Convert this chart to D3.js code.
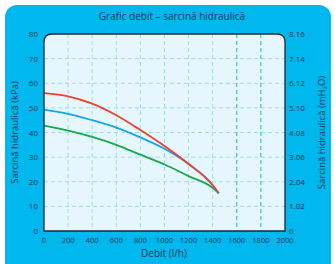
<!DOCTYPE html>
<html>
<head>
<meta charset="utf-8">
<script src="https://cdn.jsdelivr.net/npm/d3@7"></script>
<style>
  body { margin: 0; background: #fff; }
  text { font-family: "Open Sans", sans-serif; fill: #1d3550; }
</style>
</head>
<body>
<svg id="chart" width="335" height="264"></svg>
<script>
// flow (l/h)
const flow = [0, 200, 400, 600, 800, 1000, 1200, 1400, 1450]
// head (kPa) per speed
const headHigh = [56, 54.7, 51.7, 47, 41, 34.5, 27.2, 18.6, 15.3]
const headMid = [49.3, 47.6, 45, 42, 38, 33.4, 27.2, 18.6, 15.3]
const headLow = [42.8, 40.8, 38.2, 35, 31, 27, 22.3, 17.5, 15.3]
const xTicks = d3.range(0, 2001, 200)
const yTicks = d3.range(0, 81, 10)
const y2Ticks = ["0", "1.02", "2.04", "3.06", "4.08", "5.10", "6.12", "7.14", "8.16"]

const svg = d3.select("#chart")
const m = { left: 44, right: 285, top: 34, bottom: 231 }

// card background
svg.append("rect").attr("x", 5).attr("y", 5).attr("width", 326).attr("height", 280)
  .attr("rx", 12).attr("fill", "#00b8ee")

let x = d3.scaleLinear().domain([0, 2000]).range([m.left, m.right])
let y = d3.scaleLinear().domain([0, 80]).range([m.bottom, m.top])
let y2 = d3.scaleLinear().domain([0, 8.16]).range([m.bottom, m.top])

// plot panel, rounded top corners only
const r = 8
const panel = `M${m.left},${m.bottom} L${m.left},${m.top + r} Q${m.left},${m.top} ${m.left + r},${m.top}
  L${m.right - r},${m.top} Q${m.right},${m.top} ${m.right},${m.top + r} L${m.right},${m.bottom} Z`
svg.append("path").attr("d", panel).attr("fill", "#e6f6fd")

// grid
svg.append("g").selectAll("line").data(yTicks.slice(1, -1)).join("line")
  .attr("x1", m.left).attr("x2", m.right)
  .attr("y1", d => y(d)).attr("y2", d => y(d))
  .attr("stroke", "#9edcf4").attr("stroke-width", 1).attr("stroke-dasharray", "4,3")
svg.append("g").selectAll("line").data(xTicks.slice(1, -1)).join("line")
  .attr("x1", d => x(d)).attr("x2", d => x(d))
  .attr("y1", m.top).attr("y2", m.bottom)
  .attr("stroke", d => d >= 1600 ? "#1bb2e8" : "#9edcf4")
  .attr("stroke-width", 1).attr("stroke-dasharray", "4,3")

// curves
const line = d3.line().x(d => x(d[0])).y(d => y(d[1])).curve(d3.curveMonotoneX)
const series = [
  { vals: headLow, color: "#1aa84a" },
  { vals: headMid, color: "#17a6e8" },
  { vals: headHigh, color: "#ee4130" }
]
series.forEach(s => {
  svg.append("path").datum(flow.map((f, i) => [f, s.vals[i]]))
    .attr("d", line).attr("fill", "none")
    .attr("stroke", s.color).attr("stroke-width", 1.8)
})

svg.append("path").attr("d", panel).attr("fill", "none")
  .attr("stroke", "#1a2a3a").attr("stroke-width", 1.3)

// tick labels
svg.append("g").selectAll("text").data(yTicks).join("text")
  .attr("x", m.left - 6).attr("y", d => y(d) + 3)
  .attr("text-anchor", "end").attr("font-size", 8).text(d => d)
svg.append("g").selectAll("text").data(y2Ticks).join("text")
  .attr("x", m.right + 4).attr("y", (d, i) => y2(i * 1.02) + 3)
  .attr("font-size", 8).text(d => d)
svg.append("g").selectAll("text").data(xTicks).join("text")
  .attr("x", d => x(d)).attr("y", m.bottom + 12)
  .attr("text-anchor", "middle").attr("font-size", 7.5).text(d => d)

// titles
svg.append("text").attr("x", 172).attr("y", 20).attr("text-anchor", "middle")
  .attr("font-size", 10).text("Grafic debit – sarcină hidraulică")
svg.append("text").attr("x", 164).attr("y", 257).attr("text-anchor", "middle")
  .attr("font-size", 10).text("Debit (l/h)")
svg.append("text").attr("transform", `translate(18,${(m.top + m.bottom) / 2}) rotate(-90)`)
  .attr("text-anchor", "middle").attr("font-size", 9.5).text("Sarcină hidraulică (kPa)")
let t = svg.append("text").attr("transform", `translate(325,${(m.top + m.bottom) / 2}) rotate(-90)`)
  .attr("text-anchor", "middle").attr("font-size", 9.5)
t.append("tspan").text("Sarcină hidraulică (mH")
t.append("tspan").attr("font-size", 6).attr("dy", 2).text("2")
t.append("tspan").attr("dy", -2).text("O)")
</script>
</body>
</html>
